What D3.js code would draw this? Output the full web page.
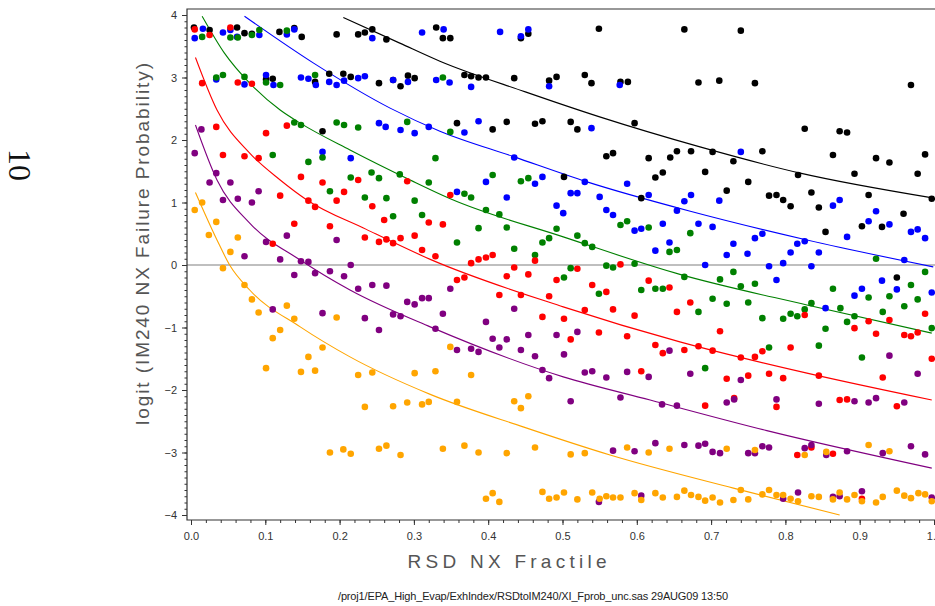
<!DOCTYPE html>
<html>
<head>
<meta charset="utf-8">
<script src="https://d3js.org/d3.v7.min.js"></script>
<style>
  body { margin: 0; background: #fff; }
  svg { display: block; }
  .axis text { font-family: "Liberation Sans", Arial, sans-serif; font-size: 11px; fill: #333; }
  .axis line { stroke: #333; }
  .frame { stroke: #333; stroke-width: 1.2; fill: none; }
  .zero { stroke: #aaa; stroke-width: 1.5; }
  .title { font-family: "Liberation Sans", Arial, sans-serif; fill: #555; }
  .footer { font-family: "Liberation Sans", Arial, sans-serif; font-size: 11px; fill: #222; }
  .page { font-family: "Liberation Serif", "DejaVu Serif", serif; font-size: 32px; fill: #111; }
</style>
</head>
<body>
<div id="chart"></div>
<script>
// points: [fractile, logit]
const blackPts = [
  [0.004,3.80],[0.025,3.76],[0.062,3.80],[0.072,3.71],[0.082,3.70],[0.119,3.73],[0.139,3.79],[0.149,3.65],
  [0.196,3.69],[0.225,3.69],[0.234,3.72],[0.244,3.77],[0.263,3.61],[0.330,3.80],[0.339,3.63],[0.349,3.63],
  [0.444,3.63],[0.454,3.70],[0.549,3.78],[0.664,3.77],[0.740,3.75],
  [0.101,2.97],[0.110,2.98],[0.167,2.93],[0.186,3.06],[0.205,3.06],[0.215,3.01],[0.253,2.91],[0.272,2.96],
  [0.282,2.86],[0.292,3.03],[0.301,2.99],[0.368,3.04],[0.377,3.02],[0.387,3.00],[0.397,3.00],[0.435,2.99],
  [0.482,2.95],[0.492,3.01],[0.530,3.04],[0.539,2.91],[0.578,2.93],[0.588,2.93],[0.683,2.92],[0.711,2.95],
  [0.759,2.91],[0.969,2.88],
  [0.177,2.14],[0.358,2.27],[0.406,2.17],[0.425,2.29],[0.463,2.26],[0.473,2.30],[0.511,2.29],[0.520,2.17],
  [0.559,1.74],[0.597,2.27],[0.826,2.18],[0.873,2.14],[0.883,2.12],
  [0.502,1.41],[0.568,1.79],[0.616,1.71],[0.645,1.72],[0.654,1.82],[0.673,1.82],[0.702,1.81],[0.730,1.66],
  [0.769,1.82],[0.864,1.76],[0.922,1.71],[0.940,1.64],[0.988,1.77],
  [0.625,1.40],[0.635,1.48],[0.692,1.49],[0.750,1.33],[0.817,1.44],[0.893,1.46],[0.978,1.46],[0.721,1.19],
  [0.835,1.16],[0.778,1.11],[0.788,1.12],[0.797,1.04],[0.807,0.94],[0.606,1.07],[0.912,1.12],[0.997,1.06],
  [0.845,0.92],[0.854,0.53],[0.903,0.62],[0.930,0.61],[0.959,0.82],[0.950,-0.20]
];
const bluePts = [
  [0.005,3.63],[0.016,3.78],[0.043,3.72],[0.053,3.76],[0.062,3.65],[0.092,3.68],[0.129,3.69],[0.139,3.77],
  [0.244,3.63],[0.311,3.72],[0.340,3.77],[0.416,3.73],[0.444,3.66],[0.454,3.77],
  [0.034,2.97],[0.072,2.89],[0.101,3.04],[0.111,2.88],[0.148,3.00],[0.158,2.98],[0.168,2.88],[0.186,2.93],
  [0.196,2.88],[0.206,2.95],[0.225,2.99],[0.234,3.02],[0.272,2.96],[0.292,2.93],[0.330,2.96],[0.348,2.92],
  [0.377,2.85],[0.482,2.86],[0.577,2.88],
  [0.177,1.81],[0.215,1.71],[0.253,2.27],[0.262,2.21],[0.282,2.16],[0.301,2.11],[0.320,2.21],[0.387,2.30],
  [0.368,2.12],[0.435,1.72],[0.539,2.19],[0.397,1.33],[0.463,1.30],[0.473,1.41],[0.530,1.33],[0.587,1.30],
  [0.616,1.12],[0.673,1.12],[0.740,1.81],[0.550,1.09],[0.664,1.02],[0.711,1.03],[0.873,1.04],[0.358,1.17],
  [0.425,1.08],[0.511,1.15],[0.520,1.15],[0.492,0.95],[0.501,0.83],[0.559,0.88],[0.568,0.80],[0.654,0.87],
  [0.635,0.66],[0.597,0.55],[0.606,0.58],[0.644,0.36],[0.625,0.23],[0.683,0.66],[0.702,0.61],[0.730,0.34],
  [0.721,0.16],[0.749,0.18],[0.759,0.43],[0.769,0.50],[0.692,0.00],[0.778,-0.02],[0.797,0.03],[0.807,0.20],
  [0.816,0.34],[0.826,0.38],[0.835,-0.02],[0.845,0.20],[0.788,-0.24],[0.864,0.95],[0.883,0.45],[0.912,0.70],
  [0.922,0.86],[0.940,0.65],[0.969,0.53],[0.978,0.57],[0.988,0.43],[0.960,0.08],[0.930,-0.25],[0.950,-0.39],
  [0.903,-0.38],[0.893,-0.49],[0.854,-0.69],[0.997,-0.44]
];
const greenPts = [
  [0.015,3.65],[0.053,3.64],[0.063,3.64],[0.082,3.68],[0.092,3.76],[0.129,3.75],
  [0.034,3.00],[0.043,3.04],[0.072,3.01],[0.101,2.92],[0.120,2.88],[0.167,3.04],[0.339,3.00],
  [0.139,2.28],[0.148,2.24],[0.196,2.28],[0.206,2.24],[0.225,2.20],[0.291,2.29],[0.349,2.13],[0.110,1.76],
  [0.158,1.65],[0.177,1.72],[0.243,1.48],[0.253,1.39],[0.281,1.45],[0.215,1.40],[0.187,1.18],[0.234,1.08],
  [0.263,1.07],[0.320,1.32],[0.329,1.71],[0.272,0.78],[0.301,1.03],[0.311,0.80],[0.406,1.44],[0.444,1.34],
  [0.454,1.39],[0.368,1.14],[0.377,1.08],[0.397,0.88],[0.415,0.81],[0.387,0.59],[0.425,0.60],[0.492,0.58],
  [0.578,0.64],[0.587,0.70],[0.616,0.60],[0.358,0.36],[0.435,0.26],[0.473,0.36],[0.482,0.43],[0.520,0.47],
  [0.530,0.35],[0.540,0.29],[0.463,0.16],[0.644,0.21],[0.654,0.24],[0.511,-0.05],[0.559,-0.01],[0.568,-0.04],
  [0.597,0.02],[0.502,-0.20],[0.549,-0.46],[0.606,-0.40],[0.625,-0.38],[0.635,-0.38],[0.664,-0.19],[0.672,0.51],
  [0.712,-0.23],[0.730,-0.11],[0.740,-0.34],[0.759,-0.30],[0.702,-0.54],[0.721,-0.62],[0.750,-0.60],[0.683,-0.75],
  [0.769,-0.85],[0.797,-0.86],[0.807,-0.78],[0.816,-0.82],[0.826,-0.71],[0.835,-0.61],[0.854,-1.02],[0.864,-0.38],
  [0.874,-0.69],[0.883,-0.91],[0.893,-0.82],[0.912,-0.52],[0.931,-0.75],[0.940,-0.50],[0.960,-0.66],[0.969,-0.32],
  [0.978,-0.55],[0.988,-0.11],[0.997,-1.01],[0.922,0.10],[0.778,-1.32],[0.845,-1.29],[0.903,-1.48],[0.692,-1.65]
];
const redPts = [
  [0.005,3.77],[0.025,3.68],[0.053,3.80],[0.015,2.91],[0.063,2.92],[0.082,2.90],
  [0.034,2.21],[0.101,2.11],[0.129,2.23],[0.043,1.76],[0.072,1.74],[0.091,1.71],[0.148,1.41],[0.177,1.32],
  [0.206,1.17],[0.225,1.36],[0.291,1.34],[0.120,1.11],[0.158,1.03],[0.167,0.93],[0.196,1.03],[0.244,0.94],
  [0.349,1.12],[0.139,0.66],[0.187,0.62],[0.260,0.72],[0.301,0.47],[0.320,0.68],[0.339,0.65],[0.110,0.34],
  [0.234,0.44],[0.253,0.37],[0.263,0.41],[0.282,0.43],[0.272,0.35],[0.311,0.24],[0.329,0.14],
  [0.377,0.03],[0.387,0.09],[0.397,0.12],[0.406,0.16],[0.435,-0.04],[0.463,0.07],[0.520,-0.06],[0.578,0.01],
  [0.358,-0.24],[0.368,-0.20],[0.425,-0.18],[0.454,-0.15],[0.492,-0.24],[0.540,-0.32],[0.559,-0.43],[0.616,-0.25],
  [0.644,-0.36],[0.415,-0.48],[0.444,-0.48],[0.482,-0.50],[0.530,-0.72],[0.568,-0.71],[0.473,-0.83],[0.502,-0.86],
  [0.597,-0.81],[0.654,-0.75],[0.549,-1.08],[0.587,-1.14],[0.511,-1.19],[0.625,-1.28],[0.635,-1.41],[0.664,-1.36],
  [0.606,-1.70],[0.672,-0.60],[0.683,-1.30],[0.702,-1.37],[0.712,-1.06],[0.740,-1.48],[0.759,-1.47],[0.769,-1.38],
  [0.721,-1.82],[0.750,-1.77],[0.778,-1.74],[0.797,-1.81],[0.807,-1.32],[0.826,-0.80],[0.845,-1.77],[0.893,-1.01],
  [0.912,-0.90],[0.922,-1.10],[0.940,-0.88],[0.960,-1.12],[0.969,-1.14],[0.978,-1.08],[0.988,-0.78],[0.997,-1.50],
  [0.931,-1.80],[0.731,-2.13],[0.692,-2.25],[0.788,-2.27],[0.873,-2.16],[0.883,-2.15],[0.950,-2.26],
  [0.816,-3.04],[0.835,-2.92],[0.864,-3.02],[0.903,-3.74]
];
const purplePts = [
  [0.014,2.17],[0.005,1.79],[0.034,1.47],[0.025,1.32],[0.053,1.32],[0.091,1.18],[0.043,1.04],[0.063,1.06],
  [0.082,1.00],[0.101,0.37],[0.072,0.14],[0.129,0.47],[0.120,0.09],[0.148,0.06],[0.158,0.05],[0.139,-0.16],
  [0.167,-0.13],[0.187,-0.10],[0.206,-0.18],[0.215,0.00],[0.225,-0.38],[0.196,0.40],[0.244,-0.32],[0.263,-0.33],
  [0.291,-0.59],[0.301,-0.63],[0.311,-0.53],[0.320,-0.53],[0.349,-0.38],[0.110,-0.71],[0.177,-0.77],[0.234,-0.85],
  [0.272,-0.79],[0.282,-0.82],[0.253,-1.04],[0.329,-1.02],[0.339,-0.78],[0.435,-0.70],[0.397,-0.91],[0.520,-1.07],
  [0.406,-1.18],[0.425,-1.19],[0.454,-1.12],[0.492,-1.12],[0.358,-1.36],[0.377,-1.34],[0.387,-1.39],[0.415,-1.32],
  [0.444,-1.36],[0.463,-1.46],[0.502,-1.43],[0.644,-1.37],[0.473,-1.68],[0.482,-1.81],[0.530,-1.72],[0.540,-1.70],
  [0.559,-1.80],[0.587,-1.71],[0.616,-1.79],[0.578,-2.12],[0.511,-2.18],[0.634,-2.23],[0.654,-2.25],[0.672,-1.74],
  [0.740,-1.84],[0.940,-1.45],[0.978,-1.74],[0.721,-2.20],[0.731,-2.15],[0.788,-2.15],[0.845,-2.22],[0.893,-2.18],
  [0.912,-2.20],[0.922,-2.13],[0.960,-2.20],
  [0.568,-2.97],[0.597,-2.98],[0.625,-2.85],[0.664,-2.88],[0.683,-2.89],[0.692,-2.86],[0.702,-2.99],[0.712,-3.01],
  [0.750,-3.01],[0.759,-3.01],[0.769,-2.90],[0.778,-2.92],[0.826,-2.93],[0.835,-2.88],[0.855,-3.04],[0.883,-2.98],
  [0.931,-3.01],[0.969,-2.90],[0.988,-3.03],
  [0.549,-3.79],[0.606,-3.69],[0.797,-3.74],[0.817,-3.64],[0.864,-3.71],[0.873,-3.70],[0.903,-3.62],[0.997,-3.72]
];
const orangePts = [
  [0.005,0.88],[0.015,1.00],[0.024,0.48],[0.034,0.69],[0.063,0.44],[0.053,0.21],[0.043,-0.05],[0.072,-0.32],
  [0.082,-0.55],[0.091,-0.76],[0.110,-1.17],[0.120,-1.04],[0.129,-0.65],[0.139,-0.86],[0.101,-1.65],[0.148,-1.71],
  [0.158,-1.47],[0.167,-1.69],[0.177,-1.32],[0.196,-0.84],[0.225,-1.76],[0.244,-1.72],[0.301,-1.73],[0.329,-1.70],
  [0.349,-1.31],[0.377,-1.76],[0.358,-2.19],[0.435,-2.18],[0.444,-2.29],[0.454,-2.10],[0.234,-2.27],[0.272,-2.26],
  [0.291,-2.20],[0.311,-2.23],[0.320,-2.19],
  [0.187,-3.00],[0.205,-2.95],[0.215,-3.02],[0.253,-2.94],[0.263,-2.89],[0.282,-3.04],[0.339,-2.94],[0.368,-2.89],
  [0.387,-3.00],[0.425,-3.01],[0.463,-2.92],[0.511,-3.03],[0.530,-3.01],[0.587,-2.92],[0.616,-3.00],[0.644,-2.94],
  [0.721,-2.94],[0.759,-2.96],[0.826,-3.04],[0.855,-2.99],[0.912,-2.88],[0.940,-2.98],
  [0.397,-3.74],[0.406,-3.65],[0.415,-3.79],[0.473,-3.63],[0.482,-3.74],[0.492,-3.72],[0.502,-3.64],[0.520,-3.75],
  [0.540,-3.64],[0.550,-3.74],[0.559,-3.70],[0.568,-3.72],[0.578,-3.72],[0.597,-3.65],[0.606,-3.76],[0.625,-3.65],
  [0.635,-3.72],[0.654,-3.71],[0.664,-3.61],[0.673,-3.68],[0.683,-3.71],[0.692,-3.77],[0.702,-3.72],[0.712,-3.80],
  [0.730,-3.76],[0.740,-3.60],[0.750,-3.75],[0.769,-3.67],[0.778,-3.60],[0.788,-3.68],[0.797,-3.68],[0.807,-3.74],
  [0.817,-3.78],[0.835,-3.70],[0.845,-3.71],[0.864,-3.75],[0.873,-3.64],[0.883,-3.75],[0.893,-3.68],[0.903,-3.78],
  [0.922,-3.80],[0.931,-3.71],[0.950,-3.61],[0.960,-3.69],[0.969,-3.73],[0.979,-3.65],[0.988,-3.67],[0.997,-3.78]
];

// fitted curves
const blackFit  = [[0.205,3.96],[0.281,3.55],[0.335,3.26],[0.45,2.77],[0.55,2.37],[0.685,1.89],[0.82,1.47],[1.0,1.07]];
const blueFit   = [[0.072,3.98],[0.165,3.23],[0.268,2.51],[0.335,2.14],[0.435,1.73],[0.533,1.33],[0.672,0.86],[0.829,0.40],[0.999,-0.03]];
const greenFit  = [[0.015,3.98],[0.045,3.39],[0.079,2.91],[0.120,2.48],[0.147,2.27],[0.214,1.84],[0.295,1.36],[0.349,1.06],[0.501,0.45],[0.658,-0.15],[0.829,-0.64],[0.997,-1.09]];
const redFit    = [[0.006,3.32],[0.035,2.48],[0.079,1.79],[0.120,1.36],[0.156,1.04],[0.236,0.57],[0.322,0.09],[0.501,-0.67],[0.658,-1.23],[0.829,-1.73],[0.997,-2.16]];
const purpleFit = [[0.006,2.24],[0.035,1.36],[0.079,0.67],[0.147,0.08],[0.214,-0.40],[0.322,-0.99],[0.501,-1.79],[0.618,-2.16],[0.775,-2.65],[0.997,-3.25]];
const orangeFit = [[0.006,1.16],[0.035,0.40],[0.052,0.0],[0.079,-0.40],[0.147,-0.99],[0.214,-1.47],[0.322,-2.07],[0.447,-2.59],[0.564,-3.04],[0.73,-3.57],[0.873,-4.0]];

const xMajor = [0, 0.1, 0.2, 0.3, 0.4, 0.5, 0.6, 0.7, 0.8, 0.9, 1.0];
const yMajor = [-4, -3, -2, -1, 0, 1, 2, 3, 4];

const xTitle = "RSD NX Fractile";
const yTitle = "logit (IM240 NX Failure Probability)";
const footer = "/proj1/EPA_High_Evap/ExhIndex/RSDtoIM240/XI_Fprob_unc.sas 29AUG09 13:50";
const pageNo = "10";

const series = [
  { color: "#000000", pts: blackPts,  fit: blackFit },
  { color: "#0000ff", pts: bluePts,   fit: blueFit },
  { color: "#008000", pts: greenPts,  fit: greenFit },
  { color: "#ff0000", pts: redPts,    fit: redFit },
  { color: "#800080", pts: purplePts, fit: purpleFit },
  { color: "#ffa500", pts: orangePts, fit: orangeFit }
];

const W = 935, H = 606;
const frameL = 187, frameT = 9, frameB = 520;

const svg = d3.select("#chart").append("svg")
  .attr("width", W)
  .attr("height", H);

const x = d3.scaleLinear().domain([0, 1]).range([191, 934]);
const y = d3.scaleLinear().domain([-4, 4]).range([515, 15]);

// zero reference line
svg.append("line")
  .attr("class", "zero")
  .attr("x1", frameL).attr("x2", W)
  .attr("y1", y(0)).attr("y2", y(0));

// fitted curves
const line = d3.line()
  .x(d => x(d[0]))
  .y(d => y(d[1]))
  .curve(d3.curveMonotoneX);

svg.append("g")
  .selectAll("path")
  .data(series)
  .enter()
  .append("path")
  .attr("d", d => line(d.fit))
  .attr("fill", "none")
  .attr("stroke", d => d.color)
  .attr("stroke-width", 1.1);

// dots
series.forEach(s => {
  svg.append("g")
    .selectAll("circle")
    .data(s.pts)
    .enter()
    .append("circle")
    .attr("cx", d => x(d[0]))
    .attr("cy", d => y(d[1]))
    .attr("r", 3.3)
    .attr("fill", s.color);
});

// frame (top, left, bottom)
svg.append("path")
  .attr("class", "frame")
  .attr("d", `M${W},${frameT}H${frameL}V${frameB}H${W}`);

// x axis: major + minor ticks
const xAxis = svg.append("g")
  .attr("class", "axis")
  .attr("transform", `translate(0,${frameB})`)
  .call(d3.axisBottom(x).tickValues(xMajor).tickSize(5).tickPadding(7).tickFormat(d3.format(".1f")));
xAxis.select(".domain").remove();

const xMinor = svg.append("g")
  .attr("class", "axis")
  .attr("transform", `translate(0,${frameB})`)
  .call(d3.axisBottom(x).tickValues(d3.range(0, 1.001, 0.02)).tickSize(3).tickFormat(""));
xMinor.select(".domain").remove();

// y axis
const yAxis = svg.append("g")
  .attr("class", "axis")
  .attr("transform", `translate(${frameL},0)`)
  .call(d3.axisLeft(y).tickValues(yMajor).tickSize(5).tickPadding(5)
    .tickFormat(d => d < 0 ? "\u2212" + Math.abs(d) : String(d)));
yAxis.select(".domain").remove();

const yMinor = svg.append("g")
  .attr("class", "axis")
  .attr("transform", `translate(${frameL},0)`)
  .call(d3.axisLeft(y).tickValues(d3.range(-4, 4.001, 0.1)).tickSize(2.5).tickFormat(""));
yMinor.select(".domain").remove();

// titles
svg.append("text")
  .attr("class", "title")
  .attr("x", 507)
  .attr("y", 568)
  .attr("text-anchor", "middle")
  .attr("font-size", 19)
  .attr("textLength", 199)
  .attr("lengthAdjust", "spacing")
  .text(xTitle);

svg.append("text")
  .attr("class", "title")
  .attr("transform", "translate(149,244) rotate(-90)")
  .attr("text-anchor", "middle")
  .attr("font-size", 19)
  .attr("textLength", 362)
  .attr("lengthAdjust", "spacing")
  .text(yTitle);

svg.append("text")
  .attr("class", "footer")
  .attr("x", 533)
  .attr("y", 600)
  .attr("text-anchor", "middle")
  .attr("textLength", 390)
  .attr("lengthAdjust", "spacing")
  .text(footer);

svg.append("text")
  .attr("class", "page")
  .attr("transform", "translate(9,165) rotate(90)")
  .attr("text-anchor", "middle")
  .text(pageNo);
</script>
</body>
</html>
